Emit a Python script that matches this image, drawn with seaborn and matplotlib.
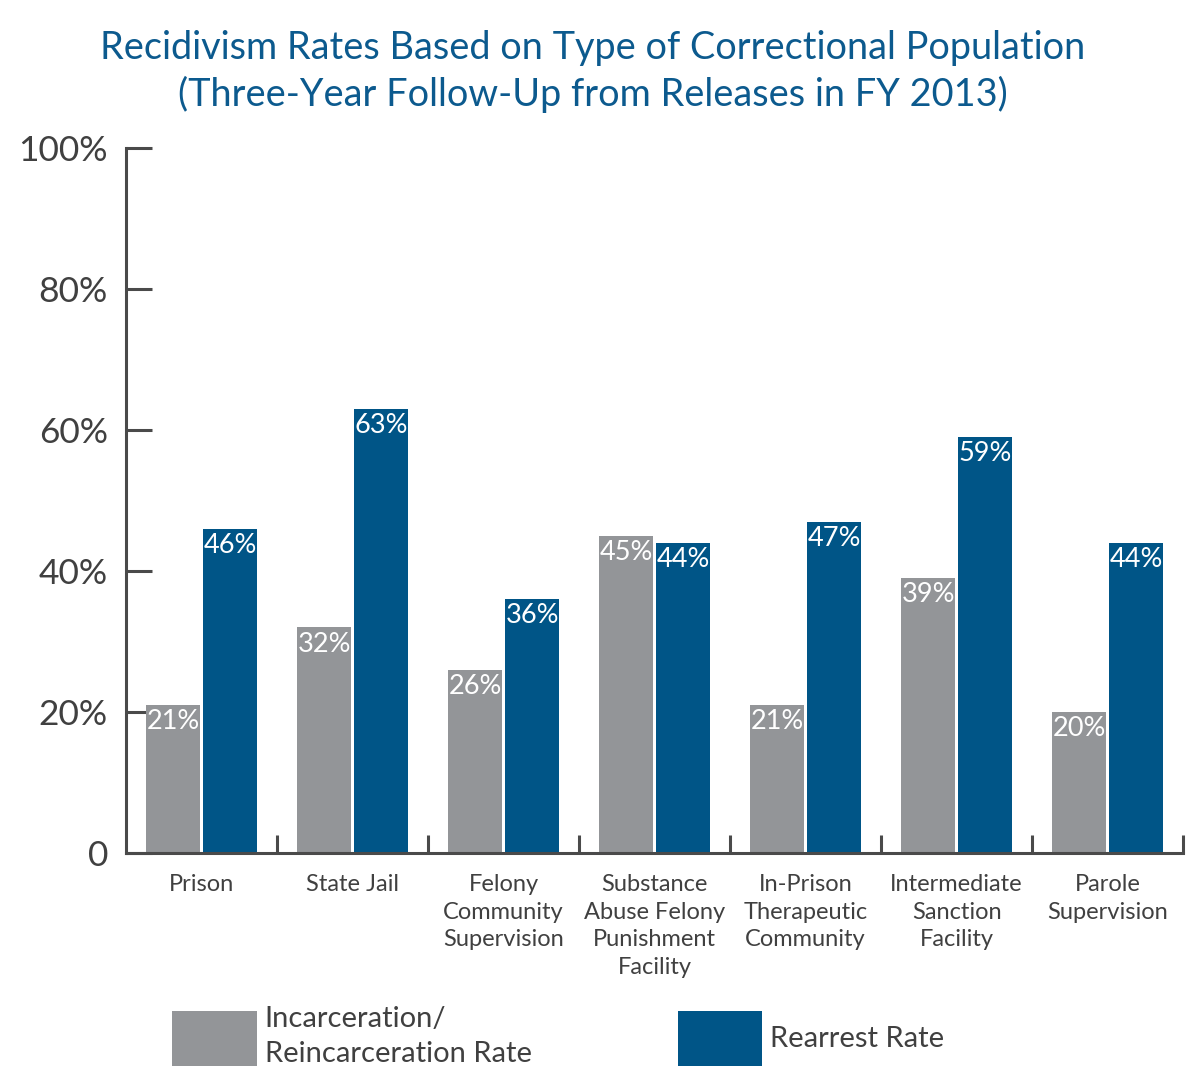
import matplotlib
matplotlib.use("Agg")
import matplotlib.pyplot as plt
import seaborn as sns
import pandas as pd
import numpy as np
from matplotlib.patches import Patch

categories = ["Prison", "State Jail", "Felony\nCommunity\nSupervision",
              "Substance\nAbuse Felony\nPunishment\nFacility",
              "In-Prison\nTherapeutic\nCommunity", "Intermediate\nSanction\nFacility",
              "Parole\nSupervision"]
incarceration = [21, 32, 26, 45, 21, 39, 20]
rearrest = [46, 63, 36, 44, 47, 59, 44]
series_names = ["Incarceration/\nReincarceration Rate", "Rearrest Rate"]
ytick_vals = [0, 20, 40, 60, 80, 100]
ytick_labels = ["0", "20%", "40%", "60%", "80%", "100%"]

GRAY = "#939598"
BLUE = "#005587"
TEXT = "#404040"
TITLE = "#0c5a8e"
AXC = "#4a4a4a"

sns.set_theme(style="white")
plt.rcParams["font.family"] = ["Lato", "DejaVu Sans"]

df = pd.DataFrame({
    "category": categories * 2,
    "value": incarceration + rearrest,
    "series": [series_names[0]] * len(categories) + [series_names[1]] * len(categories),
})

fig = plt.figure(figsize=(12, 10.9), dpi=100)
ax = fig.add_axes([0.105, 0.2174, 0.881, 0.6466])

sns.barplot(data=df, x="category", y="value", hue="series", order=categories,
            hue_order=series_names, palette=[GRAY, BLUE], width=0.755, gap=0.05,
            saturation=1, linewidth=0, ax=ax, legend=False)

ax.set_xlim(-0.5, len(categories) - 0.5)
ax.set_ylim(0, 100)
ax.set_xlabel("")
ax.set_ylabel("")

for side in ["top", "right"]:
    ax.spines[side].set_visible(False)
for side in ["left", "bottom"]:
    ax.spines[side].set_color(AXC)
    ax.spines[side].set_linewidth(2.2)

ax.set_yticks(ytick_vals)
ax.set_yticklabels(ytick_labels)
ax.tick_params(axis="y", direction="in", length=19, width=2.2, color=AXC,
               labelsize=25.5, labelcolor=TEXT, pad=13, left=True)
ax.set_xticks(range(len(categories)))
ax.set_xticklabels(categories, linespacing=1.4)
ax.tick_params(axis="x", length=0, labelsize=17, labelcolor=TEXT, pad=15)
ax.set_xticks(np.arange(0.5, len(categories), 1.0), minor=True)
ax.tick_params(axis="x", which="minor", direction="in", length=13, width=2.2,
               color=AXC, bottom=True)

for container in ax.containers:
    for patch in container:
        h = patch.get_height()
        ax.annotate(f"{h:.0f}%", (patch.get_x() + patch.get_width() / 2, h),
                    xytext=(0, -3), textcoords="offset points",
                    ha="center", va="top", color="white", fontsize=19.5)

fig.text(0.494, 1 - 30 / 1090,
         "Recidivism Rates Based on Type of Correctional Population\n(Three-Year Follow-Up from Releases in FY 2013)",
         ha="center", va="top", color=TITLE, fontsize=27.3, linespacing=1.32)

handles = [Patch(facecolor=GRAY, edgecolor="none"), Patch(facecolor=BLUE, edgecolor="none")]
leg = fig.legend(handles, series_names, loc="upper left",
                 bbox_to_anchor=(172 / 1200, 1 - 1006 / 1090),
                 ncol=2, frameon=False, fontsize=21, handlelength=2.9, handleheight=2.52,
                 handletextpad=0.28, columnspacing=5.0, borderpad=0, borderaxespad=0,
                 labelcolor=TEXT)
for t in leg.get_texts():
    t.set_linespacing(1.45)

fig.savefig("out.png", dpi=100, facecolor="white")
